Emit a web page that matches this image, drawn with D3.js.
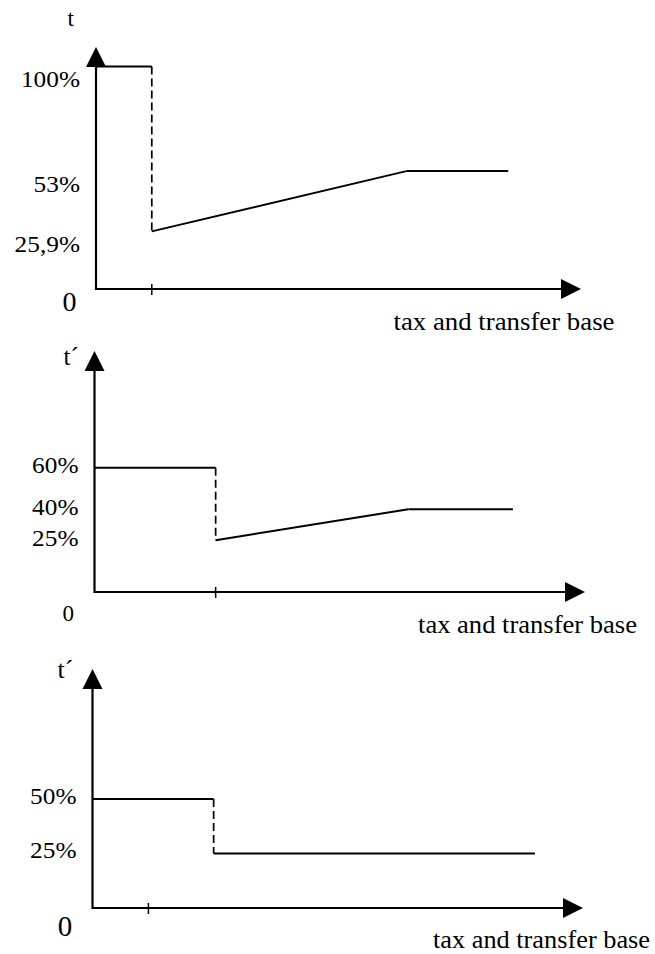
<html>
<head>
<meta charset="utf-8">
<title></title>
<style>
  body { margin: 0; background-color: white; }
  svg { display: block; background-color: white; }
  text { font-family: "Liberation Serif", "Times New Roman", serif; fill: black; }
</style>
</head>
<body>
<div id="chart"></div>
<script src="https://cdnjs.cloudflare.com/ajax/libs/d3/7.8.5/d3.min.js"></script>
<script>
// schedule data: x in % of the axis length, y = rate in %
var xStops1 = [0, 11.5, 11.5, 64, 85];
var rates1  = [100, 100, 25.9, 53, 53];
var xStops2 = [0, 24.7, 24.7, 64, 85.3];
var rates2  = [60, 60, 25, 40, 40];
var xStops3 = [0, 24.7, 24.7, 90.2];
var rates3  = [50, 50, 25, 25];

var tickX = [11.5, 24.7, 11.4];

var yTicks1 = [100, 53, 25.9];
var yLabels1 = ["100%", "53%", "25,9%"];
var yTicks2 = [60, 40, 25];
var yLabels2 = ["60%", "40%", "25%"];
var yTicks3 = [50, 25];
var yLabels3 = ["50%", "25%"];

var yTitles = ["t", "t\u00b4", "t\u00b4"];
var xTitle = "tax and transfer base";
var originLabel = "0";

// layout of the three panels
var panels = [
  { xs: xStops1, ys: rates1, ticks: yTicks1, labels: yLabels1,
    left: 96, bottom: 289, tipX: 581, tipY: 47, yMax: 108.8, labelDy: 20.5,
    title: [67.5, 25.7, 23], xt: [393.5, 330, 221], zero: [69.5, 311, 28] },
  { xs: xStops2, ys: rates2, ticks: yTicks2, labels: yLabels2,
    left: 94.5, bottom: 592, tipX: 585, tipY: 351, yMax: 116.4, labelDy: 5.5,
    title: [63.5, 365, 25], xt: [418, 633, 219], zero: [68.3, 621, 23] },
  { xs: xStops3, ys: rates3, ticks: yTicks3, labels: yLabels3,
    left: 92.5, bottom: 908, tipX: 583, tipY: 669, yMax: 109.6, labelDy: 5,
    title: [57.5, 678, 26], xt: [433, 948, 217], zero: [65, 936, 29] }
];

var svg = d3.select("#chart").append("svg")
  .attr("width", 655)
  .attr("height", 954);

var line = d3.line();

panels.forEach(function(p, k) {
  var x = d3.scaleLinear().domain([0, 100]).range([p.left, p.tipX]);
  var y = d3.scaleLinear().domain([0, p.yMax]).range([p.bottom, p.tipY]);
  var g = svg.append("g");

  // axes with arrow heads
  var x0 = x(0), y0 = y(0), xe = x(100), ye = y(p.yMax);
  g.append("path")
    .attr("d", line([[x0, ye + 19], [x0, y0], [xe - 19, y0]]))
    .attr("fill", "none").attr("stroke", "black").attr("stroke-width", 2.2);
  g.append("path")
    .attr("d", line([[x0, ye], [x0 - 10, ye + 20], [x0 + 10, ye + 20]]) + "Z")
    .attr("fill", "black");
  g.append("path")
    .attr("d", line([[xe, y0], [xe - 20, y0 - 10], [xe - 20, y0 + 10]]) + "Z")
    .attr("fill", "black");

  // tick on the x axis
  g.append("line")
    .attr("x1", x(tickX[k])).attr("x2", x(tickX[k]))
    .attr("y1", y0 - 5).attr("y2", y0 + 6)
    .attr("stroke", "black").attr("stroke-width", 1.5);

  // schedule segments, vertical jumps dashed
  var pts = p.xs.map(function(d, i) { return [x(d), y(p.ys[i])]; });
  for (var i = 0; i < pts.length - 1; i++) {
    var dashed = p.xs[i] === p.xs[i + 1];
    g.append("path")
      .attr("d", line([pts[i], pts[i + 1]]))
      .attr("fill", "none")
      .attr("stroke", "black")
      .attr("stroke-width", dashed ? 1.7 : 2)
      .attr("stroke-dasharray", dashed ? "8,4" : null);
  }

  // rate labels
  g.selectAll("text.tick")
    .data(p.ticks)
    .enter().append("text")
    .attr("class", "tick")
    .attr("x", x0 - 16)
    .attr("y", function(d) { return y(d) + p.labelDy; })
    .attr("text-anchor", "end")
    .attr("font-family", "Liberation Serif, serif")
    .attr("font-size", "23px")
    .text(function(d, i) { return p.labels[i]; })
    .each(function() {
      var len = this.getComputedTextLength();
      d3.select(this).attr("textLength", len * 1.1).attr("lengthAdjust", "spacingAndGlyphs");
    });

  // origin
  g.append("text")
    .attr("x", p.zero[0]).attr("y", p.zero[1])
    .attr("text-anchor", "middle")
    .attr("font-family", "Liberation Serif, serif")
    .attr("font-size", p.zero[2] + "px")
    .text(originLabel);

  // axis titles
  g.append("text")
    .attr("x", p.title[0]).attr("y", p.title[1])
    .attr("font-family", "Liberation Serif, serif")
    .attr("font-size", p.title[2] + "px")
    .text(yTitles[k]);

  g.append("text")
    .attr("x", p.xt[0]).attr("y", p.xt[1])
    .attr("font-family", "Liberation Serif, serif")
    .attr("font-size", "26px")
    .attr("textLength", p.xt[2])
    .attr("lengthAdjust", "spacingAndGlyphs")
    .text(xTitle);
});
</script>
</body>
</html>
